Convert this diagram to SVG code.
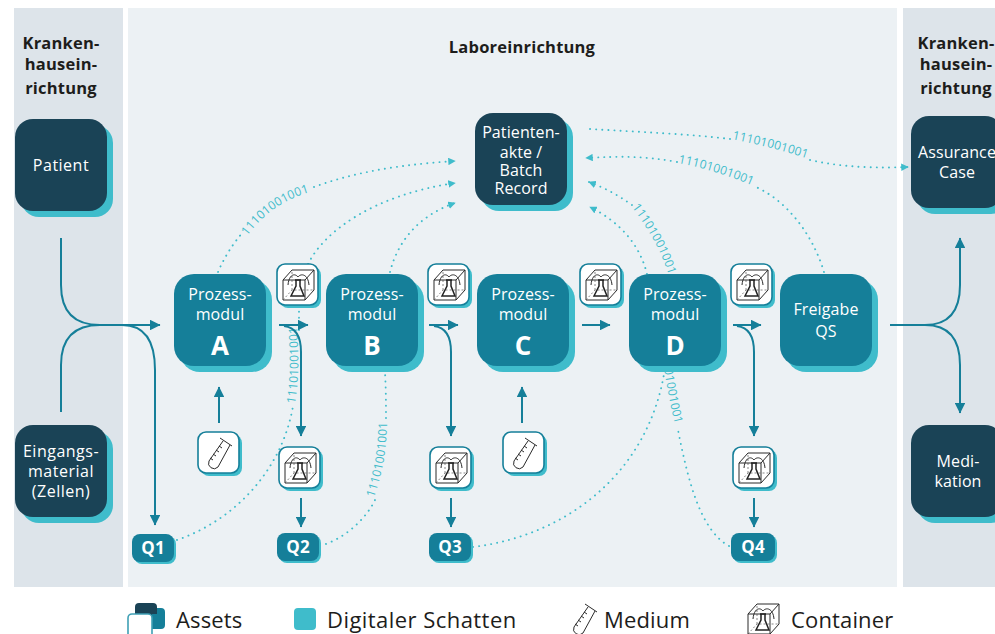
<svg xmlns="http://www.w3.org/2000/svg" width="995" height="634" viewBox="0 0 995 634">
<style>
text{font-family:"Open Sans","Noto Sans","Liberation Sans",sans-serif;fill:#1d1d1b}
.head{font-size:16.5px;font-weight:700;text-anchor:middle;letter-spacing:.2px}
.n{font-size:16px;fill:#fff;text-anchor:middle;letter-spacing:.1px}
.w{letter-spacing:.5px}
.big{font-size:26px;font-weight:700;fill:#fff;text-anchor:middle}
.q{font-size:17px;font-weight:700;fill:#fff;text-anchor:middle}
.leg{font-size:22px;letter-spacing:.15px}
.bin{font-size:12px;fill:#3fbccb;letter-spacing:.2px}
.sh{fill:#3fbccb}
.dk{fill:#1a4356}
.tl{fill:#157f99}
.flow{fill:none;stroke:#157f99;stroke-width:2}
.dot{fill:none;stroke:#3fbccb;stroke-width:1.9;stroke-linecap:round;stroke-dasharray:.1 6}
.box{fill:#fff;stroke:#157f99;stroke-width:1.6}
.ic{fill:none;stroke:#2a2a2a;stroke-width:1}
.ic2{fill:none;stroke:#222;stroke-width:1.5}
.ic3{fill:none;stroke:#555;stroke-width:.7;stroke-dasharray:2 2}
</style>
<defs>
<marker id="fa" viewBox="0 0 10 10" refX="9.5" refY="5" markerWidth="10.5" markerHeight="10.5" markerUnits="userSpaceOnUse" orient="auto"><path d="M0 0L10 5L0 10z" fill="#157f99"/></marker>
<marker id="da" viewBox="0 0 10 10" refX="9" refY="5" markerWidth="7.5" markerHeight="7.5" markerUnits="userSpaceOnUse" orient="auto"><path d="M0 0L10 5L0 10z" fill="#3fbccb"/></marker>
<g id="cube">
<path class="ic" d="M0 11H22V31H0zM0 11L9 1H31V21L22 31M22 11L31 1"/>
<path class="ic3" d="M0 31L9 21H31M9 21V1"/>
<path class="ic" d="M5 16C6 5 12 4 15 8C18 4 25 5 26 16"/>
<path class="ic2" d="M13 11V17L8 27H21L17 17V11M12 11H18"/>
</g>
<g id="tube">
<path class="ic" d="M20 4L32 12M23 7L9 27A5.5 5.5 0 0 0 18 33L30 11M19 12L22 14M16 16L19 18M13 20L16 22M10 24L13 26"/>
</g>
<g id="cont"><rect x="3" y="3" width="41" height="41" rx="8" class="sh"/><rect width="41" height="41" rx="8" class="box"/><use href="#cube" x="6" y="5"/></g>
<g id="med"><rect x="3" y="3" width="41" height="41" rx="8" class="sh"/><rect width="41" height="41" rx="8" class="box"/><use href="#tube" x="2" y="2"/></g>
<path id="t1" d="M247 236C265 212 287 197 318 190"/>
<path id="t2" d="M295 404C299 380 299 360 297 325"/>
<path id="t3" d="M374 498C383 470 387 450 387 420"/>
<path id="t4" d="M632 207C650 232 666 256 674 296"/>
<path id="t5" d="M661 348C665 372 668 398 676 428"/>
<path id="t6" d="M732 139C760 145 785 151 812 160"/>
<path id="t7" d="M678 163C705 168 730 176 758 188"/>
</defs>

<g id="panels">
<rect x="14" y="8" width="109" height="579" fill="#dde4ea"/>
<rect x="128" y="8" width="769" height="579" fill="#ecf1f4"/>
<rect x="903" y="8" width="92" height="579" fill="#dde4ea"/>
</g>

<g id="titles">
<text class="head" x="61" y="49">Kranken-</text>
<text class="head" x="61" y="70">hausein-</text>
<text class="head" x="61" y="94">richtung</text>
<text class="head" x="522" y="53">Laboreinrichtung</text>
<text class="head" x="956" y="49">Kranken-</text>
<text class="head" x="956" y="70">hausein-</text>
<text class="head" x="956" y="94">richtung</text>
</g>

<g id="connectors">
<path class="dot" d="M218 272C224 258 232 245 243 232"/>
<path class="dot" d="M314 187C360 170 410 164 455 161" marker-end="url(#da)"/>
<path class="dot" d="M177 540C235 520 282 470 293 406"/>
<path class="dot" d="M299 330V310"/>
<path class="dot" d="M308 264C325 230 375 195 455 183" marker-end="url(#da)"/>
<path class="dot" d="M326 544C350 535 368 515 375 500"/>
<path class="dot" d="M386 418C386 405 386 390 385 372"/>
<path class="dot" d="M390 272C398 240 420 215 455 203" marker-end="url(#da)"/>
<path class="dot" d="M473 547C570 535 650 470 665 368"/>
<path class="dot" d="M647 274C640 245 620 222 590 207" marker-end="url(#da)"/>
<path class="dot" d="M729 546C700 530 688 480 678 430"/>
<path class="dot" d="M632 205C618 195 605 188 589 182" marker-end="url(#da)"/>
<path class="dot" d="M590 129C640 132 690 134 730 139"/>
<path class="dot" d="M810 160C845 168 880 168 908 167" marker-end="url(#da)"/>
<path class="dot" d="M824 272C812 232 785 200 756 187"/>
<path class="dot" d="M677 162C645 156 620 156 586 158" marker-end="url(#da)"/>

<text class="bin"><textPath href="#t1">11101001001</textPath></text>
<text class="bin"><textPath href="#t2">11101001001</textPath></text>
<text class="bin"><textPath href="#t3">11101001001</textPath></text>
<text class="bin"><textPath href="#t4">11101001001</textPath></text>
<text class="bin"><textPath href="#t5">11101001001</textPath></text>
<text class="bin"><textPath href="#t6">11101001001</textPath></text>
<text class="bin"><textPath href="#t7">11101001001</textPath></text>

<path class="flow" d="M61 238V285Q61 325 100 325H160" marker-end="url(#fa)"/>
<path class="flow" d="M61 412V365Q61 325 100 325"/>
<path class="flow" d="M122 325Q155 325 155 370V525" marker-end="url(#fa)"/>
<path class="flow" d="M279 325H308" marker-end="url(#fa)"/>
<path class="flow" d="M284 326Q301 328 301 352V436" marker-end="url(#fa)"/>
<path class="flow" d="M429 325H458" marker-end="url(#fa)"/>
<path class="flow" d="M434 326Q451 328 451 352V436" marker-end="url(#fa)"/>
<path class="flow" d="M582 325H610" marker-end="url(#fa)"/>
<path class="flow" d="M733 325H761" marker-end="url(#fa)"/>
<path class="flow" d="M737 326Q754 328 754 352V436" marker-end="url(#fa)"/>
<path class="flow" d="M301 498V527" marker-end="url(#fa)"/>
<path class="flow" d="M451 498V527" marker-end="url(#fa)"/>
<path class="flow" d="M754 498V527" marker-end="url(#fa)"/>
<path class="flow" d="M219 423V387" marker-end="url(#fa)"/>
<path class="flow" d="M522 423V387" marker-end="url(#fa)"/>
<path class="flow" d="M890 325H925Q960 325 960 285V238" marker-end="url(#fa)"/>
<path class="flow" d="M925 325Q960 325 960 365V413" marker-end="url(#fa)"/>
</g>

<g id="node-patient"><rect x="21" y="125" width="92" height="92" rx="18" class="sh"/><rect x="15" y="119" width="92" height="92" rx="18" class="dk"/><text class="n w" x="61" y="171">Patient</text></g>
<g id="node-eingang"><rect x="21" y="431" width="92" height="92" rx="18" class="sh"/><rect x="15" y="425" width="92" height="92" rx="18" class="dk"/><text class="n w" x="61" y="457">Eingangs-</text><text class="n w" x="61" y="477">material</text><text class="n w" x="61" y="497">(Zellen)</text></g>
<g id="node-akte"><rect x="481" y="119" width="92" height="92" rx="18" class="sh"/><rect x="475" y="113" width="92" height="92" rx="18" class="dk"/><text class="n" x="521" y="138">Patienten-</text><text class="n" x="521" y="158">akte /</text><text class="n" x="521" y="176">Batch</text><text class="n" x="521" y="194">Record</text></g>
<g id="node-assurance"><rect x="917" y="122" width="92" height="92" rx="18" class="sh"/><rect x="911" y="116" width="92" height="92" rx="18" class="dk"/><text class="n" x="957" y="158">Assurance</text><text class="n" x="957" y="178">Case</text></g>
<g id="node-medikation"><rect x="917" y="431" width="92" height="92" rx="18" class="sh"/><rect x="911" y="425" width="92" height="92" rx="18" class="dk"/><text class="n" x="958" y="467">Medi-</text><text class="n" x="958" y="487">kation</text></g>

<g id="node-a"><rect x="180" y="280" width="92" height="92" rx="20" class="sh"/><rect x="174" y="274" width="92" height="92" rx="20" class="tl"/><text class="n" x="220" y="300">Prozess-</text><text class="n" x="220" y="320">modul</text><text class="big" x="220" y="355">A</text></g>
<g id="node-b"><rect x="332" y="280" width="92" height="92" rx="20" class="sh"/><rect x="326" y="274" width="92" height="92" rx="20" class="tl"/><text class="n" x="372" y="300">Prozess-</text><text class="n" x="372" y="320">modul</text><text class="big" x="372" y="355">B</text></g>
<g id="node-c"><rect x="483" y="280" width="92" height="92" rx="20" class="sh"/><rect x="477" y="274" width="92" height="92" rx="20" class="tl"/><text class="n" x="523" y="300">Prozess-</text><text class="n" x="523" y="320">modul</text><text class="big" x="523" y="355">C</text></g>
<g id="node-d"><rect x="635" y="280" width="92" height="92" rx="20" class="sh"/><rect x="629" y="274" width="92" height="92" rx="20" class="tl"/><text class="n" x="675" y="300">Prozess-</text><text class="n" x="675" y="320">modul</text><text class="big" x="675" y="355">D</text></g>
<g id="node-freigabe"><rect x="786" y="280" width="92" height="92" rx="20" class="sh"/><rect x="780" y="274" width="92" height="92" rx="20" class="tl"/><text class="n" x="826" y="315">Freigabe</text><text class="n" x="826" y="337">QS</text></g>

<g id="container-1"><use href="#cont" x="277" y="264"/></g>
<g id="container-2"><use href="#cont" x="428" y="264"/></g>
<g id="container-3"><use href="#cont" x="580" y="264"/></g>
<g id="container-4"><use href="#cont" x="731" y="264"/></g>
<g id="container-5"><use href="#cont" x="279" y="447"/></g>
<g id="container-6"><use href="#cont" x="430" y="447"/></g>
<g id="container-7"><use href="#cont" x="733" y="447"/></g>
<g id="medium-1"><use href="#med" x="198" y="432"/></g>
<g id="medium-2"><use href="#med" x="503" y="432"/></g>

<g id="q1"><rect x="134" y="536" width="42" height="28" rx="8" class="sh"/><rect x="132" y="534" width="42" height="28" rx="8" class="tl"/><text class="q" x="153" y="554">Q1</text></g>
<g id="q2"><rect x="279" y="535" width="42" height="28" rx="8" class="sh"/><rect x="277" y="533" width="42" height="28" rx="8" class="tl"/><text class="q" x="298" y="553">Q2</text></g>
<g id="q3"><rect x="431" y="535" width="42" height="28" rx="8" class="sh"/><rect x="429" y="533" width="42" height="28" rx="8" class="tl"/><text class="q" x="450" y="553">Q3</text></g>
<g id="q4"><rect x="733" y="535" width="44" height="28" rx="8" class="sh"/><rect x="731" y="533" width="44" height="28" rx="8" class="tl"/><text class="q" x="753" y="553">Q4</text></g>

<g id="legend">
<rect x="135" y="603" width="22" height="22" rx="4" class="dk"/>
<path class="tl" d="M157 608H161A4 4 0 0 1 165 612V625A4 4 0 0 1 161 629H152V614H157z"/>
<rect x="128" y="614" width="24" height="24" rx="4" fill="#fff" stroke="#3fa0b5" stroke-width="1.6"/>
<text class="leg" x="176" y="628">Assets</text>
<rect x="294" y="608" width="22" height="22" rx="4" class="sh"/>
<text class="leg" x="327" y="628" style="letter-spacing:.45px">Digitaler Schatten</text>
<use href="#tube" x="565" y="600"/>
<text class="leg" x="604" y="628">Medium</text>
<use href="#cube" x="748" y="603"/>
<text class="leg" x="791" y="628">Container</text>
</g>
</svg>
